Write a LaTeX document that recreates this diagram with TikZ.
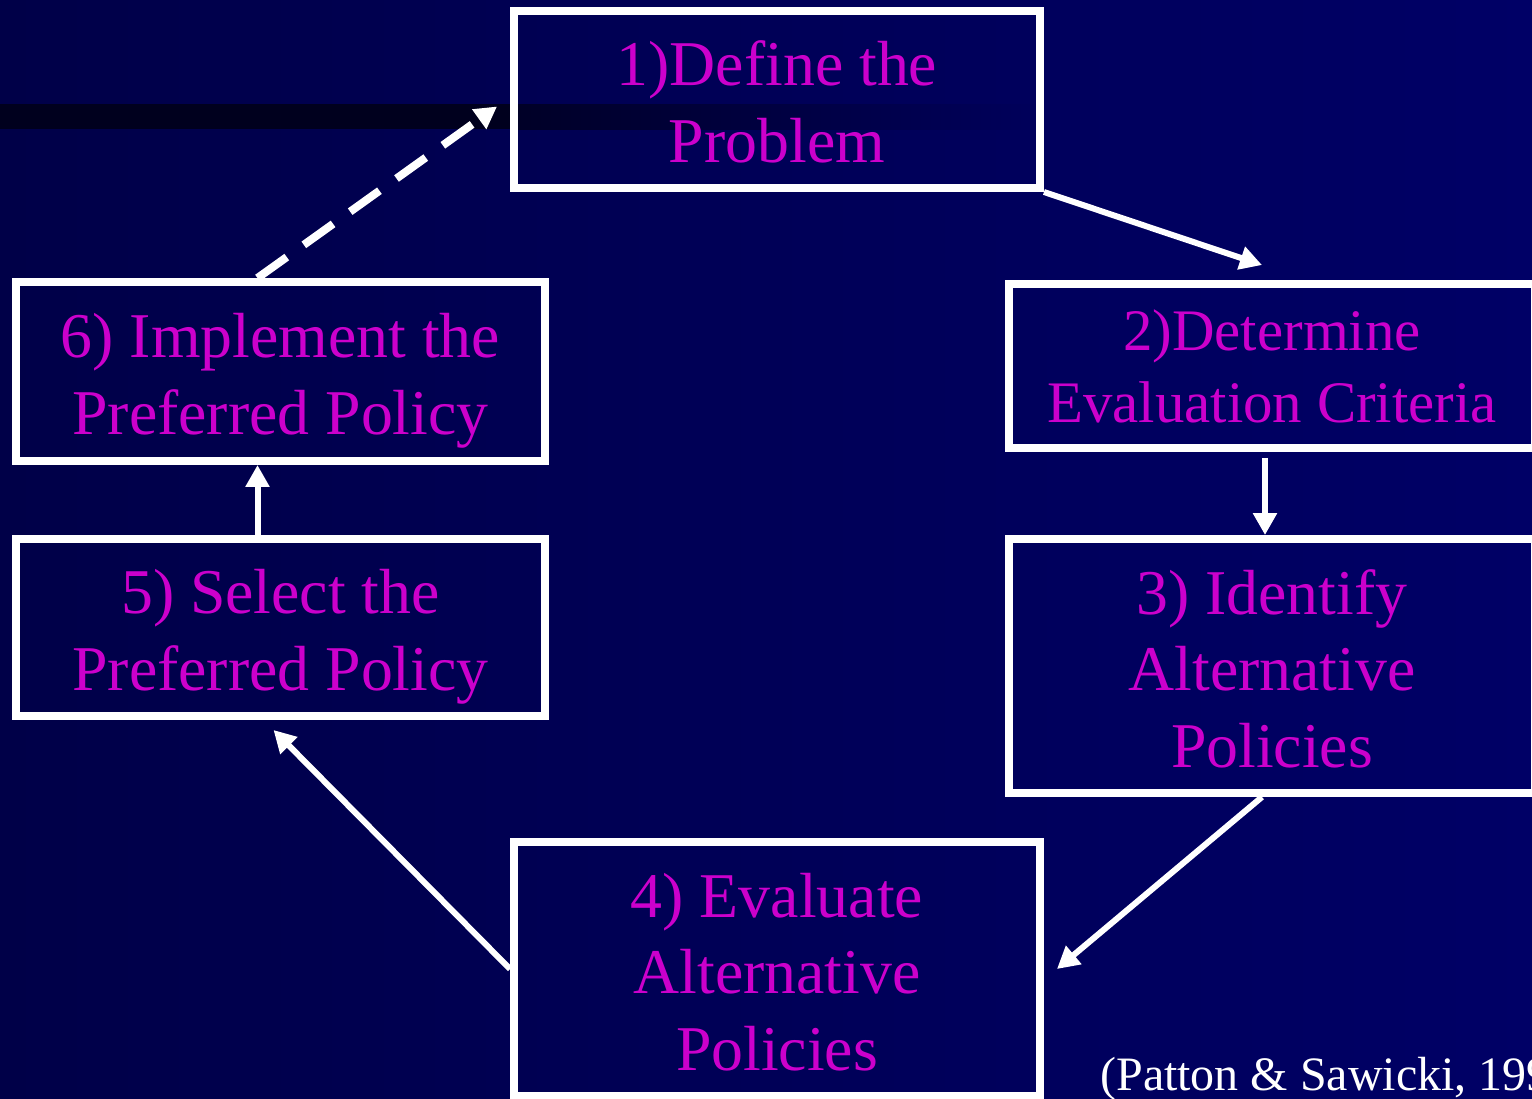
\documentclass[tikz,border=0pt]{standalone}
\usepackage{fontspec}
\setmainfont{Liberation Serif}
\usetikzlibrary{arrows.meta}
\definecolor{bgleft}{HTML}{000048}
\definecolor{bgright}{HTML}{000066}
\definecolor{bardark}{HTML}{00001E}
\definecolor{stagetext}{HTML}{CC00CC}

\begin{document}
\begin{tikzpicture}[x=0.02cm,y=-0.02cm,>={Triangle[length=0.44cm,width=0.46cm]}]
	\tikzstyle{stage}=[draw=white, line width=0.16cm, inner sep=0pt, align=center, text=stagetext, minimum width=10.52cm, font={\fontsize{36.3pt}{43.7pt}\selectfont}, text height=72pt, text depth=0pt]
	\tikzstyle{three}=[minimum height=5.08cm, text height=115.7pt]
	\tikzstyle{flow}=[->, white, line width=0.12cm]

    % background and dark band
    \useasboundingbox (0,0) rectangle (1532,1099);
    \shade[left color=bgleft, right color=bgright] (0,0) rectangle (1532,1099);
    \fill[bardark] (0,104) rectangle (510,129);
    \shade[left color=bardark!80!bgleft, right color=bgleft!35!bgright] (510,104) rectangle (1040,129);

    \node [stage, minimum height=3.54cm] (def) at (777,99.5) {1)Define the\\Problem};
    \node [stage, minimum height=3.28cm, font={\fontsize{33.5pt}{41pt}\selectfont}, text height=64.5pt] (crit) at (1272,366) {2)Determine\\Evaluation Criteria};
    \node [stage, three] (alt) at (1272,666) {3) Identify\\Alternative\\Policies};
    \node [stage, three] (eval) at (777,969) {4) Evaluate\\Alternative\\Policies};
    \node [stage, minimum width=10.58cm, minimum height=3.54cm] (sel) at (280.5,627.5) {5) Select the\\Preferred Policy};
    \node [stage, minimum width=10.58cm, minimum height=3.58cm] (impl) at (280.5,371.5) {6) Implement the\\Preferred Policy};
    \node [white, anchor=base west, inner sep=0pt, font={\fontsize{27.3pt}{32pt}\selectfont}] (cite) at (1100,1090) {(Patton \& Sawicki, 1993)};

    \draw[flow] (def.south east) -- ([shift={(-10,-15)}]crit.north);
    \draw[flow] ([shift={(-7,6)}]crit.south) -- ([shift={(-7,0)}]alt.north);
    \draw[flow] ([shift={(-10,0)}]alt.south) -- ([shift={(13,0)}]eval.east);
    \draw[flow] (eval.west) -- ([shift={(-7,10)}]sel.south);
    \draw[flow] ([shift={(-23,0)}]sel.north) -- ([shift={(-23,0)}]impl.south);
    \draw[flow, line width=0.16cm, dash pattern=on 0.72cm off 0.42cm] ([shift={(-23,0)}]impl.north) -- ([shift={(-13,7)}]def.west);
\end{tikzpicture}
\end{document}
